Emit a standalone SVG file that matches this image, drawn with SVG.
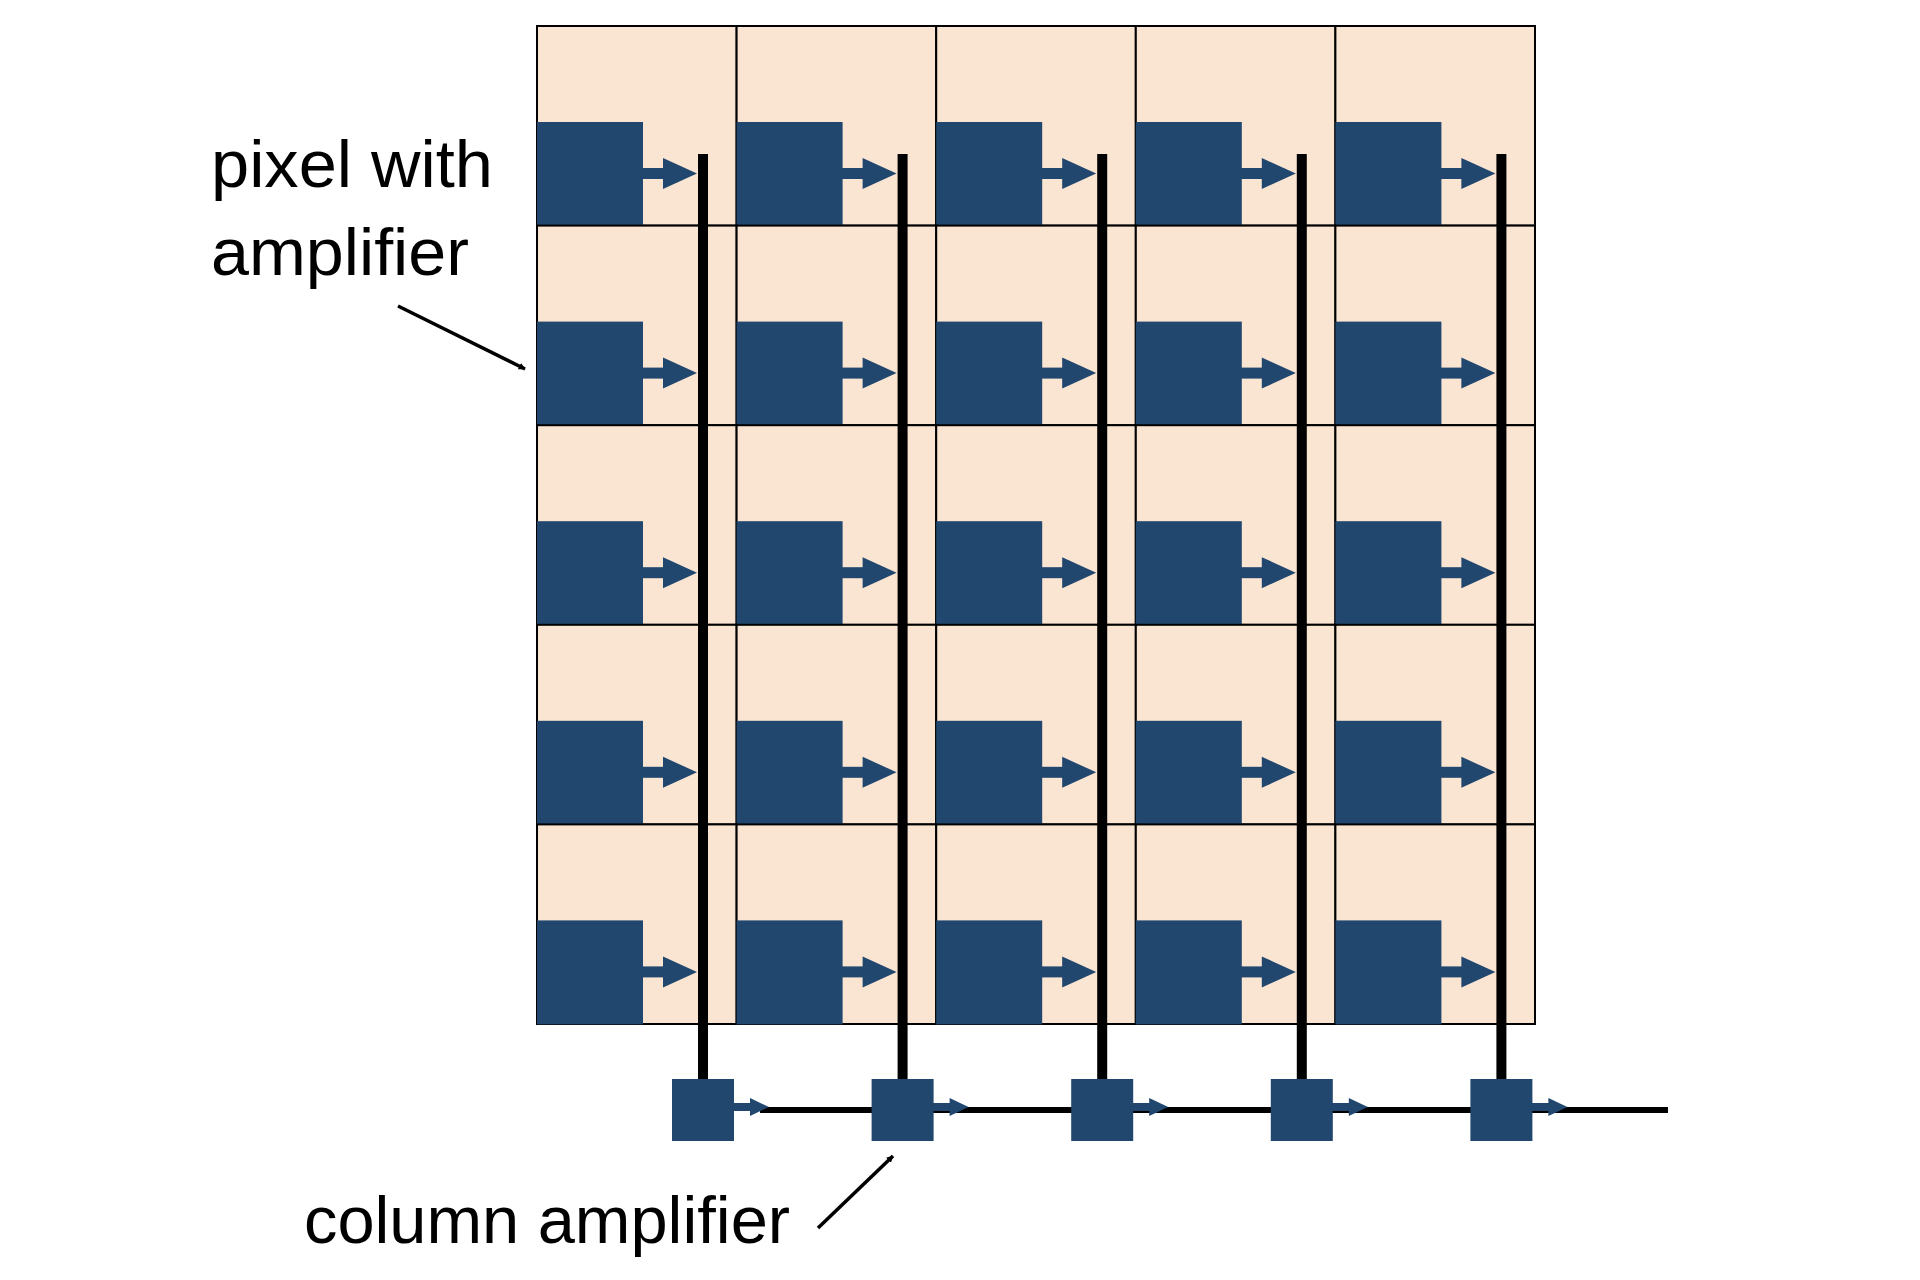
<svg xmlns="http://www.w3.org/2000/svg" xmlns:xlink="http://www.w3.org/1999/xlink" width="1920" height="1280" viewBox="0 0 1920 1280">
<style>
.cell{fill:#fae5d3;stroke:#000;stroke-width:2}
.blue{fill:#21476f}
.bus{stroke:#000;stroke-width:10}
.lbl{font-family:"Liberation Sans",Arial,sans-serif;font-size:66px;fill:#000}
</style>
<defs>
<g id="pix">
<rect class="cell" x="0" y="0" width="199.6" height="199.6"/>
<rect class="blue" x="0" y="96" width="106" height="104"/>
<rect class="blue" x="105" y="142" width="22" height="11"/>
<polygon class="blue" points="126,132 160,147.5 126,163"/>
</g>
<g id="camp">
<rect class="blue" x="-31" y="0" width="62" height="62"/>
<rect class="blue" x="30" y="24" width="18" height="8"/>
<polygon class="blue" points="47,19 66,28 47,37"/>
</g>
<marker id="ah" viewBox="0 0 10 10" refX="9" refY="5" markerWidth="7" markerHeight="7" markerUnits="userSpaceOnUse" orient="auto"><path d="M0,0 L10,5 L0,10z" fill="#000"/></marker>
</defs>
<g id="pixels">
<use xlink:href="#pix" x="537" y="26"/><use xlink:href="#pix" x="736.6" y="26"/><use xlink:href="#pix" x="936.2" y="26"/><use xlink:href="#pix" x="1135.8" y="26"/><use xlink:href="#pix" x="1335.4" y="26"/>
<use xlink:href="#pix" x="537" y="225.6"/><use xlink:href="#pix" x="736.6" y="225.6"/><use xlink:href="#pix" x="936.2" y="225.6"/><use xlink:href="#pix" x="1135.8" y="225.6"/><use xlink:href="#pix" x="1335.4" y="225.6"/>
<use xlink:href="#pix" x="537" y="425.2"/><use xlink:href="#pix" x="736.6" y="425.2"/><use xlink:href="#pix" x="936.2" y="425.2"/><use xlink:href="#pix" x="1135.8" y="425.2"/><use xlink:href="#pix" x="1335.4" y="425.2"/>
<use xlink:href="#pix" x="537" y="624.8"/><use xlink:href="#pix" x="736.6" y="624.8"/><use xlink:href="#pix" x="936.2" y="624.8"/><use xlink:href="#pix" x="1135.8" y="624.8"/><use xlink:href="#pix" x="1335.4" y="624.8"/>
<use xlink:href="#pix" x="537" y="824.4"/><use xlink:href="#pix" x="736.6" y="824.4"/><use xlink:href="#pix" x="936.2" y="824.4"/><use xlink:href="#pix" x="1135.8" y="824.4"/><use xlink:href="#pix" x="1335.4" y="824.4"/>
</g>
<g id="connectors">
<line class="bus" x1="703" y1="154" x2="703" y2="1082"/>
<line class="bus" x1="902.6" y1="154" x2="902.6" y2="1082"/>
<line class="bus" x1="1102.2" y1="154" x2="1102.2" y2="1082"/>
<line class="bus" x1="1301.8" y1="154" x2="1301.8" y2="1082"/>
<line class="bus" x1="1501.4" y1="154" x2="1501.4" y2="1082"/>
<line x1="760" y1="1110" x2="1668" y2="1110" stroke="#000" stroke-width="6"/>
<line x1="398" y1="306" x2="525" y2="369" stroke="#000" stroke-width="3.5" marker-end="url(#ah)"/>
<line x1="818" y1="1228" x2="893" y2="1156" stroke="#000" stroke-width="3.5" marker-end="url(#ah)"/>
</g>
<g id="column-amps">
<use xlink:href="#camp" x="703" y="1079"/><use xlink:href="#camp" x="902.6" y="1079"/><use xlink:href="#camp" x="1102.2" y="1079"/><use xlink:href="#camp" x="1301.8" y="1079"/><use xlink:href="#camp" x="1501.4" y="1079"/>
</g>
<g id="labels">
<text class="lbl" x="211" y="187" textLength="282" lengthAdjust="spacingAndGlyphs">pixel with</text>
<text class="lbl" x="211" y="275" textLength="258" lengthAdjust="spacingAndGlyphs">amplifier</text>
<text class="lbl" x="304" y="1243" textLength="486" lengthAdjust="spacingAndGlyphs">column amplifier</text>
</g>
</svg>
